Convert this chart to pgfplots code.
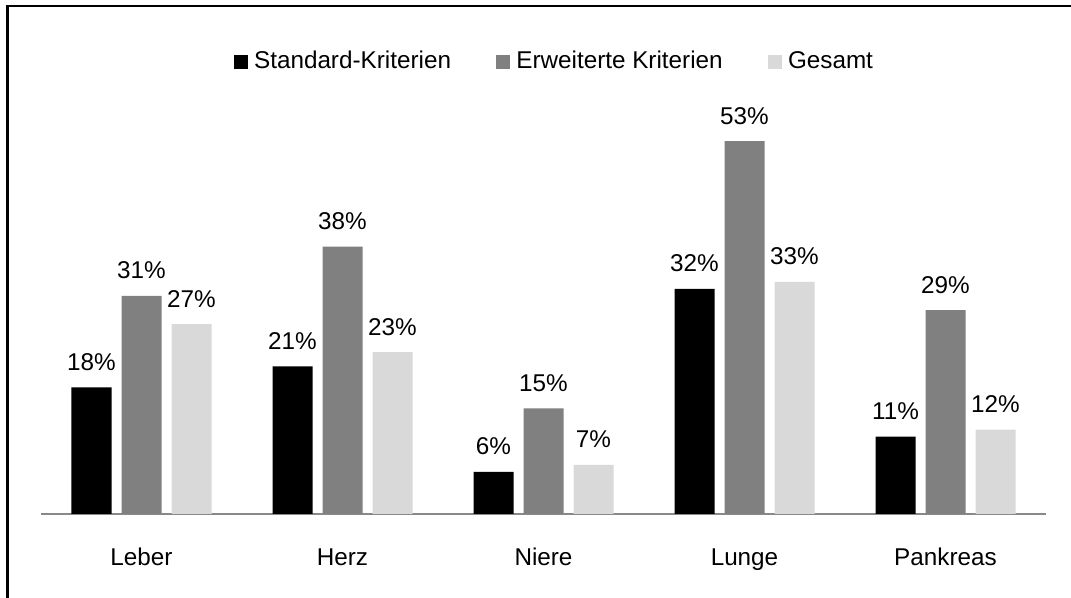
\documentclass[border=0pt]{standalone}
\usepackage{pgfplots}
\pgfplotsset{compat=1.18}
\usepackage{fontspec}
\setmainfont{Liberation Sans}
\definecolor{cA}{RGB}{0,0,0}
\definecolor{cB}{RGB}{128,128,128}
\definecolor{cC}{RGB}{217,217,217}
\definecolor{axgray}{RGB}{137,137,137}
\newcommand{\ff}{\fontsize{18.2pt}{21pt}\selectfont}
\begin{document}
\ff
\begin{tikzpicture}
\useasboundingbox (0,0) rectangle (803.25pt,448.5pt);
\draw[line width=1.875pt] (5.625pt,0pt) -- (5.625pt,444pt) -- (803.25pt,444pt);
\begin{axis}[
  at={(30.75pt,63pt)}, anchor=south west,
  scale only axis, width=753.75pt, height=316.5pt,
  xmin=-0.5, xmax=4.5, ymin=0, ymax=60,
  ybar=7.5pt, bar width=30pt,
  axis lines*=left, axis y line=none,
  x axis line style={draw=axgray, line width=1.5pt, -},
  xtick=data, xticklabels={Leber,Herz,Niere,Lunge,Pankreas},
  xtick style={draw=none},
  xticklabel style={anchor=base, inner sep=0pt, yshift=-34.5pt, font=\ff},
  ytick=\empty,
  /pgf/number format/assume math mode=true,
  nodes near coords={\pgfmathprintnumber{\pgfplotspointmeta}\%},
  every node near coord/.append style={anchor=base, inner sep=0pt, yshift=12.75pt, text=black, font=\ff},
  legend columns=3,
  legend style={at={(0.51,1.072)}, anchor=center, draw=none, fill=none,
    font=\ff, nodes={inner sep=0pt},
    /tikz/every odd column/.append style={column sep=4.5pt},
    /tikz/every even column/.append style={column sep=34pt}},
  legend image code/.code={\fill[#1] (0pt,-5.25pt) rectangle (10.5pt,5.25pt);},
  clip=false,
]
\addplot[fill=cA, draw=none] coordinates {(0,18) (1,21) (2,6) (3,32) (4,11)};
\addplot[fill=cB, draw=none] coordinates {(0,31) (1,38) (2,15) (3,53) (4,29)};
\addplot[fill=cC, draw=none] coordinates {(0,27) (1,23) (2,7) (3,33) (4,12)};
\legend{Standard-Kriterien,Erweiterte Kriterien,Gesamt}
\end{axis}
\end{tikzpicture}
\end{document}
